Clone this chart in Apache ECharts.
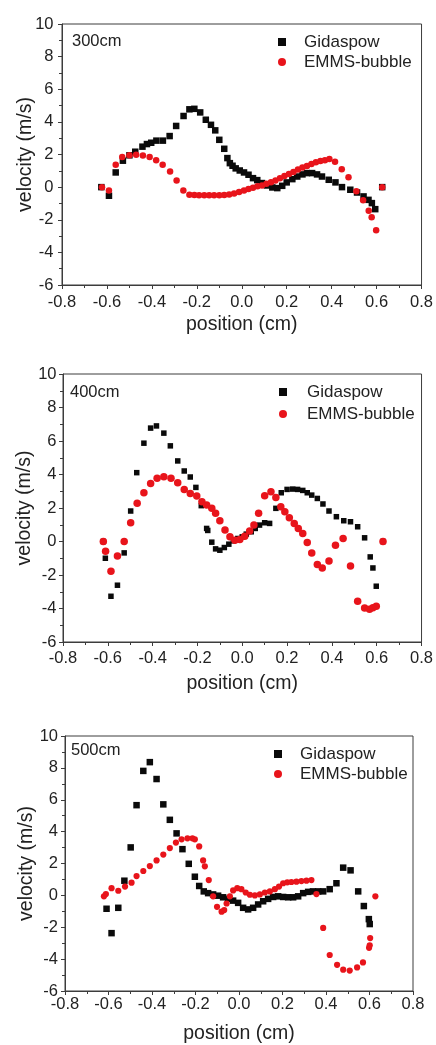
<!DOCTYPE html>
<html>
<head>
<meta charset="utf-8">
<script src="https://cdn.jsdelivr.net/npm/echarts@6/dist/echarts.min.js"></script>
<style>
  html, body { margin: 0; padding: 0; background: #fff; }
  #chart { width: 436px; height: 1045px; }
</style>
</head>
<body>
<div id="chart"></div>
<script>
// Axial velocity profiles across the riser at three heights: [position (cm), velocity (m/s)]
const heights = ['300cm', '400cm', '500cm'];
const seriesNames = ['Gidaspow', 'EMMS-bubble'];
const xTicks = { min: -0.8, max: 0.8, interval: 0.2 };
const yTicks = { min: -6, max: 10, interval: 2 };

const gidaspow300 = [
  [-0.625,0],[-0.591,-0.53],[-0.561,0.9],[-0.529,1.62],[-0.5,1.95],[-0.474,2.17],[-0.442,2.48],
  [-0.422,2.64],[-0.403,2.72],[-0.38,2.85],[-0.351,2.85],[-0.321,3.13],[-0.292,3.75],[-0.259,4.36],
  [-0.233,4.77],[-0.211,4.8],[-0.185,4.58],[-0.16,4.13],[-0.137,3.82],[-0.118,3.48],[-0.1,2.9],
  [-0.078,2.35],[-0.064,1.78],[-0.053,1.47],[-0.041,1.31],[-0.027,1.15],[-0.009,1.02],[0.01,0.9],
  [0.03,0.76],[0.05,0.55],[0.069,0.43],[0.09,0.25],[0.112,0.1],[0.136,-0.02],[0.158,-0.06],
  [0.18,0.08],[0.2,0.29],[0.225,0.49],[0.247,0.65],[0.27,0.78],[0.29,0.86],[0.313,0.86],
  [0.335,0.78],[0.357,0.65],[0.387,0.45],[0.417,0.29],[0.446,0],[0.483,-0.16],[0.513,-0.33],
  [0.542,-0.57],[0.564,-0.78],[0.579,-0.98],[0.594,-1.35],[0.625,0]
];
const emms300 = [
  [-0.622,0],[-0.591,-0.2],[-0.561,1.37],[-0.532,1.84],[-0.5,1.96],[-0.47,1.98],[-0.44,1.94],
  [-0.41,1.84],[-0.381,1.64],[-0.352,1.37],[-0.319,0.96],[-0.29,0.41],[-0.26,-0.2],[-0.233,-0.47],
  [-0.211,-0.49],[-0.19,-0.5],[-0.167,-0.5],[-0.145,-0.5],[-0.123,-0.5],[-0.1,-0.5],[-0.078,-0.49],
  [-0.056,-0.45],[-0.034,-0.39],[-0.012,-0.3],[0.01,-0.2],[0.03,-0.12],[0.05,-0.04],[0.07,0.05],
  [0.09,0.1],[0.11,0.2],[0.13,0.3],[0.15,0.4],[0.17,0.55],[0.19,0.68],[0.21,0.8],[0.23,0.93],
  [0.25,1.08],[0.27,1.2],[0.29,1.3],[0.31,1.42],[0.33,1.52],[0.35,1.6],[0.37,1.65],[0.39,1.72],
  [0.415,1.55],[0.445,1.1],[0.475,0.6],[0.51,-0.25],[0.54,-0.8],[0.565,-1.45],[0.578,-1.85],
  [0.598,-2.65],[0.625,0]
];

const gidaspow400 = [
  [-0.62,0],[-0.611,-1.0],[-0.586,-3.27],[-0.557,-2.61],[-0.527,-0.68],[-0.498,1.82],[-0.471,4.11],
  [-0.439,5.87],[-0.409,6.77],[-0.383,6.9],[-0.35,6.47],[-0.321,5.71],[-0.288,4.81],[-0.259,4.21],
  [-0.232,3.85],[-0.207,3.23],[-0.183,2.14],[-0.159,0.78],[-0.154,0.66],[-0.136,-0.04],[-0.119,-0.44],
  [-0.1,-0.52],[-0.08,-0.36],[-0.06,-0.16],[-0.04,0.04],[-0.02,0.18],[0,0.28],[0.018,0.44],
  [0.04,0.58],[0.058,0.78],[0.077,0.98],[0.1,1.12],[0.122,1.08],[0.15,1.98],[0.174,2.91],
  [0.2,3.11],[0.225,3.13],[0.247,3.11],[0.27,3.05],[0.29,2.91],[0.31,2.77],[0.335,2.57],
  [0.36,2.24],[0.387,1.82],[0.42,1.48],[0.453,1.24],[0.483,1.18],[0.515,0.88],[0.546,0.22],
  [0.571,-0.92],[0.583,-1.58],[0.598,-2.67],[0.628,0]
];
const emms400 = [
  [-0.62,0],[-0.61,-0.58],[-0.586,-1.78],[-0.557,-0.86],[-0.527,0],[-0.498,1.12],[-0.469,2.28],
  [-0.439,2.91],[-0.409,3.47],[-0.38,3.77],[-0.35,3.87],[-0.318,3.77],[-0.288,3.51],[-0.259,3.11],
  [-0.232,2.87],[-0.203,2.71],[-0.18,2.38],[-0.159,2.18],[-0.136,1.98],[-0.119,1.68],[-0.1,1.24],
  [-0.077,0.68],[-0.055,0.28],[-0.033,0.08],[-0.011,0.12],[0.011,0.32],[0.033,0.62],[0.052,0.98],
  [0.073,1.68],[0.1,2.73],[0.128,2.97],[0.15,2.63],[0.172,2.08],[0.19,1.78],[0.21,1.42],
  [0.232,1.08],[0.25,0.78],[0.27,0.48],[0.29,-0.06],[0.31,-0.68],[0.335,-1.38],[0.357,-1.58],
  [0.387,-1.16],[0.416,-0.22],[0.45,0.18],[0.483,-1.46],[0.515,-3.57],[0.546,-3.97],[0.568,-4.05],
  [0.583,-3.95],[0.598,-3.87],[0.628,0]
];

const gidaspow500 = [
  [-0.609,-0.84],[-0.586,-2.37],[-0.555,-0.78],[-0.527,0.92],[-0.498,3.01],[-0.471,5.66],[-0.44,7.81],
  [-0.41,8.36],[-0.379,7.3],[-0.348,5.71],[-0.318,4.74],[-0.287,3.89],[-0.26,2.9],[-0.231,1.98],
  [-0.203,1.17],[-0.183,0.59],[-0.162,0.25],[-0.142,0.14],[-0.119,0.06],[-0.096,-0.02],[-0.073,-0.12],
  [-0.05,-0.22],[-0.027,-0.33],[-0.004,-0.47],[0.019,-0.78],[0.042,-0.88],[0.065,-0.78],[0.088,-0.57],
  [0.111,-0.37],[0.134,-0.22],[0.157,-0.1],[0.18,-0.06],[0.203,-0.1],[0.226,-0.12],[0.249,-0.12],
  [0.272,-0.06],[0.295,0.14],[0.318,0.22],[0.34,0.25],[0.364,0.25],[0.387,0.25],[0.417,0.39],
  [0.448,0.76],[0.479,1.74],[0.513,1.57],[0.548,0.25],[0.574,-0.67],[0.597,-1.49],[0.601,-1.8]
];
const emms500 = [
  [-0.621,-0.06],[-0.612,0.08],[-0.586,0.45],[-0.555,0.29],[-0.524,0.55],[-0.494,0.8],[-0.471,1.21],
  [-0.44,1.53],[-0.41,1.84],[-0.379,2.19],[-0.348,2.56],[-0.318,2.97],[-0.29,3.31],[-0.264,3.52],
  [-0.237,3.58],[-0.214,3.58],[-0.203,3.52],[-0.183,3.07],[-0.165,2.19],[-0.157,1.82],[-0.139,0.96],
  [-0.119,-0.06],[-0.101,-0.72],[-0.08,-1.02],[-0.068,-0.92],[-0.057,-0.51],[-0.042,-0.06],
  [-0.027,0.31],[-0.008,0.45],[0.011,0.39],[0.031,0.18],[0.05,0.04],[0.073,0],[0.096,0.06],
  [0.119,0.18],[0.142,0.25],[0.165,0.39],[0.184,0.55],[0.203,0.76],[0.222,0.82],[0.241,0.84],
  [0.264,0.86],[0.287,0.9],[0.31,0.92],[0.333,0.96],[0.356,0.08],[0.387,-2.04],[0.417,-3.74],
  [0.451,-4.36],[0.479,-4.66],[0.509,-4.72],[0.543,-4.52],[0.57,-4.21],[0.598,-3.29],[0.601,-3.13],
  [0.603,-2.68],[0.627,-0.06]
];

const panelData = [
  [gidaspow300, emms300],
  [gidaspow400, emms400],
  [gidaspow500, emms500]
];

// Layout for the three stacked panels
const FONT = '"Liberation Sans", Arial, sans-serif';
const TEXT = '#222';
const AXIS = '#3c3c3c';
const BLACK = '#0a0a0a';
const RED = '#e8141b';

const panels = [
  { grid: { left: 62, top: 24, width: 361, height: 261 }, xMargin: 9, yMargin: 8.5, xGap: 30, yGap: 26,
    tag: { left: 72, top: 33 }, legend: { left: 278, top: 32, text: 13, gap: 0 }, sq: 6.5, ci: 6.5 },
  { grid: { left: 63, top: 374, width: 362, height: 268 }, xMargin: 7.5, yMargin: 6.5, xGap: 32, yGap: 28,
    tag: { left: 70, top: 384 }, legend: { left: 279, top: 382, text: 15, gap: 2 }, sq: 5.5, ci: 7.5 },
  { grid: { left: 65, top: 736, width: 348, height: 261 }, xMargin: 5, yMargin: 7, xGap: 33, yGap: 28,
    tag: { left: 71, top: 742 }, legend: { left: 274, top: 744, text: 13, gap: 0 }, sq: 6.5, ci: 6.2 }
];

const option = {
  backgroundColor: '#fff',
  animation: false,
  textStyle: { fontFamily: FONT },
  grid: [], xAxis: [], yAxis: [], series: [], legend: [], title: []
};

panels.forEach((p, i) => {
  option.grid.push(Object.assign({ show: true, borderColor: AXIS, borderWidth: 1, backgroundColor: 'transparent' }, p.grid));
  option.xAxis.push({
    type: 'value', gridIndex: i, min: xTicks.min, max: xTicks.max, interval: xTicks.interval,
    name: 'position (cm)', nameLocation: 'middle', nameGap: p.xGap, nameMoveOverlap: false,
    nameTextStyle: { fontSize: 19.5, color: TEXT, fontFamily: FONT },
    axisLine: { onZero: false, lineStyle: { color: AXIS, width: 1 } },
    axisTick: { show: true, inside: false, length: 4, lineStyle: { color: AXIS } },
    minorTick: { show: true, splitNumber: 2, length: 3, lineStyle: { color: AXIS } },
    splitLine: { show: false },
    axisLabel: { fontSize: 16.5, color: TEXT, margin: p.xMargin, fontFamily: FONT,
      formatter: v => (Math.abs(v) < 1e-9 ? 0 : v).toFixed(1) }
  });
  option.yAxis.push({
    type: 'value', gridIndex: i, min: yTicks.min, max: yTicks.max, interval: yTicks.interval,
    name: 'velocity (m/s)', nameLocation: 'middle', nameGap: p.yGap, nameMoveOverlap: false,
    nameTextStyle: { fontSize: 19.5, color: TEXT, fontFamily: FONT },
    axisLine: { onZero: false, lineStyle: { color: AXIS, width: 1 } },
    axisTick: { show: true, inside: false, length: 4, lineStyle: { color: AXIS } },
    minorTick: { show: true, splitNumber: 2, length: 3, lineStyle: { color: AXIS } },
    splitLine: { show: false },
    axisLabel: { fontSize: 16.5, color: TEXT, margin: p.yMargin, fontFamily: FONT }
  });
  option.series.push({
    name: seriesNames[0], type: 'scatter', xAxisIndex: i, yAxisIndex: i,
    symbol: 'rect', symbolSize: p.sq, itemStyle: { color: BLACK, opacity: 1 },
    data: panelData[i][0]
  });
  option.series.push({
    name: seriesNames[1], type: 'scatter', xAxisIndex: i, yAxisIndex: i,
    symbol: 'circle', symbolSize: p.ci, itemStyle: { color: RED, opacity: 1 },
    data: panelData[i][1]
  });
  option.legend.push({
    orient: 'vertical', left: p.legend.left, top: p.legend.top, padding: 0,
    itemWidth: 8, itemHeight: 8, itemGap: p.legend.gap, selectedMode: false,
    textStyle: { fontSize: 17, color: TEXT, fontFamily: FONT, lineHeight: 20,
      padding: [0, 0, 0, p.legend.text] },
    data: [
      { name: seriesNames[0], icon: 'rect', itemStyle: { color: BLACK, opacity: 1 } },
      { name: seriesNames[1], icon: 'circle', itemStyle: { color: RED, opacity: 1 } }
    ]
  });
  option.title.push({
    text: heights[i], left: p.tag.left, top: p.tag.top, padding: 0,
    textStyle: { fontSize: 16.5, fontWeight: 'normal', color: TEXT, fontFamily: FONT }
  });
});

const chart = echarts.init(document.getElementById('chart'), null, { renderer: 'canvas' });
chart.setOption(option);
</script>
</body>
</html>
